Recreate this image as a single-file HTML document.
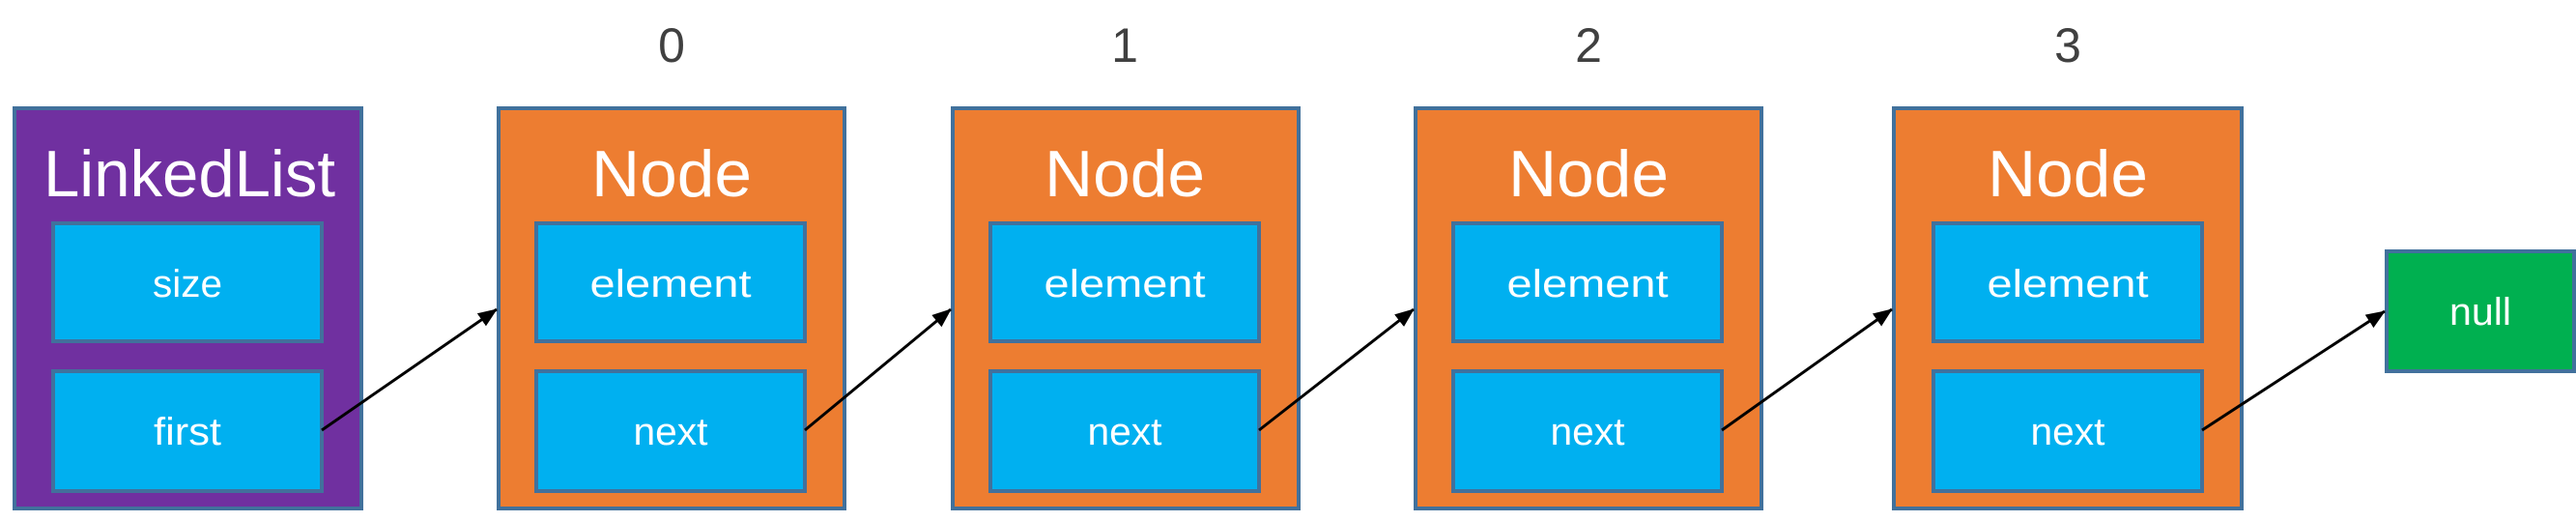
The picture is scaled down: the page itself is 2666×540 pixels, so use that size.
<!DOCTYPE html>
<html><head><meta charset="utf-8"><style>
html,body{margin:0;padding:0;background:#fff;}
svg{display:block;}
text{font-family:"Liberation Sans",sans-serif;fill:#fff;text-anchor:middle;}
</style></head><body>
<svg width="2666" height="540" viewBox="0 0 2666 540" xmlns="http://www.w3.org/2000/svg">
<defs>
<marker id="ah" markerWidth="10" markerHeight="10" refX="9" refY="5" orient="auto" markerUnits="userSpaceOnUse" viewBox="0 0 10 10">
<path d="M0,0 L10,5 L0,10 z" fill="#000"/>
</marker>
<marker id="a" viewBox="0 0 20 20" refX="19" refY="10" markerWidth="20" markerHeight="20" orient="auto" markerUnits="userSpaceOnUse"><path d="M0,2 L20,10 L0,18 z" fill="#000"/></marker>
</defs>
<g stroke="#41719C" stroke-width="4">
<!-- LinkedList -->
<rect x="15" y="112" width="359" height="414" fill="#7030A0"/>
<rect x="55" y="231" width="278" height="122" fill="#00B0F0"/>
<rect x="55" y="384" width="278" height="124" fill="#00B0F0"/>
<!-- Nodes -->
<rect x="516" y="112" width="358" height="414" fill="#ED7D31"/>
<rect x="555" y="231" width="278" height="122" fill="#00B0F0"/>
<rect x="555" y="384" width="278" height="124" fill="#00B0F0"/>
<rect x="986" y="112" width="358" height="414" fill="#ED7D31"/>
<rect x="1025" y="231" width="278" height="122" fill="#00B0F0"/>
<rect x="1025" y="384" width="278" height="124" fill="#00B0F0"/>
<rect x="1465" y="112" width="358" height="414" fill="#ED7D31"/>
<rect x="1504" y="231" width="278" height="122" fill="#00B0F0"/>
<rect x="1504" y="384" width="278" height="124" fill="#00B0F0"/>
<rect x="1960" y="112" width="360" height="414" fill="#ED7D31"/>
<rect x="2001" y="231" width="278" height="122" fill="#00B0F0"/>
<rect x="2001" y="384" width="278" height="124" fill="#00B0F0"/>
<!-- null -->
<rect x="2470" y="260" width="194" height="124" fill="#00B050"/>
</g>
<!-- index labels -->
<g font-size="50">
<text x="695" y="64" style="fill:#404040">0</text>
<text x="1164" y="64" style="fill:#404040">1</text>
<text x="1644" y="64" style="fill:#404040">2</text>
<text x="2140" y="64" style="fill:#404040">3</text>
</g>
<!-- titles -->
<g font-size="68">
<text x="196" y="203" textLength="302" lengthAdjust="spacingAndGlyphs">LinkedList</text>
<text x="695" y="203" textLength="166" lengthAdjust="spacingAndGlyphs">Node</text>
<text x="1164" y="203" textLength="166" lengthAdjust="spacingAndGlyphs">Node</text>
<text x="1644" y="203" textLength="166" lengthAdjust="spacingAndGlyphs">Node</text>
<text x="2140" y="203" textLength="166" lengthAdjust="spacingAndGlyphs">Node</text>
</g>
<g font-size="40">
<text x="194" y="307" textLength="72" lengthAdjust="spacingAndGlyphs">size</text>
<text x="194" y="460" textLength="70" lengthAdjust="spacingAndGlyphs">first</text>
<text x="694" y="307" textLength="167" lengthAdjust="spacingAndGlyphs">element</text>
<text x="694" y="460" textLength="77" lengthAdjust="spacingAndGlyphs">next</text>
<text x="1164" y="307" textLength="167" lengthAdjust="spacingAndGlyphs">element</text>
<text x="1164" y="460" textLength="77" lengthAdjust="spacingAndGlyphs">next</text>
<text x="1643" y="307" textLength="167" lengthAdjust="spacingAndGlyphs">element</text>
<text x="1643" y="460" textLength="77" lengthAdjust="spacingAndGlyphs">next</text>
<text x="2140" y="307" textLength="167" lengthAdjust="spacingAndGlyphs">element</text>
<text x="2140" y="460" textLength="77" lengthAdjust="spacingAndGlyphs">next</text>
<text x="2567" y="336" textLength="64" lengthAdjust="spacingAndGlyphs">null</text>
</g>
<!-- arrows -->
<g stroke="#000" stroke-width="3" fill="none" marker-end="url(#a)">
<line x1="333" y1="445" x2="514" y2="320"/>
<line x1="833" y1="445" x2="984" y2="320"/>
<line x1="1303" y1="445" x2="1463" y2="320"/>
<line x1="1782" y1="445" x2="1958" y2="320"/>
<line x1="2279" y1="445" x2="2468" y2="322"/>
</g>
</svg>
</body></html>
